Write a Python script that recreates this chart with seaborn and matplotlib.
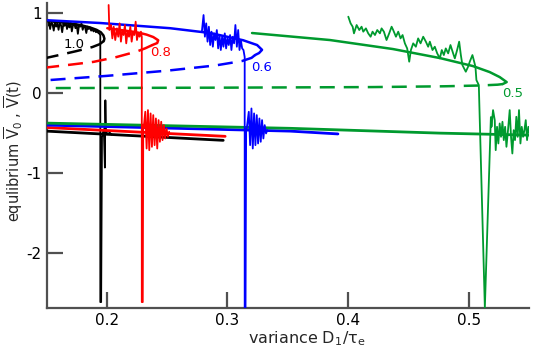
import matplotlib
matplotlib.use("Agg")
import matplotlib.pyplot as plt
import seaborn as sns

sns.set_style("ticks")
plt.rcParams['font.family'] = ['DejaVu Sans']
plt.rcParams['mathtext.fontset'] = 'dejavusans'
plt.rcParams['mathtext.default'] = 'regular'

BLACK = '#000000'
RED = '#ff0000'
BLUE = '#0000ff'
GREEN = '#009a2e'

# equilibrium branches (upper stable, unstable dashed, lower stable)
black_up_x = [0.150, 0.165, 0.178, 0.186, 0.1915, 0.1950, 0.1972, 0.1980, 0.1975]
black_up_y = [0.90, 0.88, 0.85, 0.82, 0.79, 0.76, 0.72, 0.68, 0.65]
black_mid_x = [0.1975, 0.1940, 0.1880, 0.1750, 0.1620, 0.150]
black_mid_y = [0.65, 0.61, 0.575, 0.525, 0.48, 0.44]
black_lo_x = [0.150, 0.2965]
black_lo_y = [-0.475, -0.59]

red_up_x = [0.2004, 0.2100, 0.2200, 0.2277, 0.2330, 0.2385, 0.2426, 0.2418, 0.2377]
red_up_y = [0.81, 0.79, 0.77, 0.75, 0.73, 0.70, 0.66, 0.625, 0.60]
red_mid_x = [0.2377, 0.2320, 0.2250, 0.2080, 0.1890, 0.1700, 0.150]
red_mid_y = [0.60, 0.56, 0.52, 0.45, 0.39, 0.355, 0.32]
red_lo_x = [0.150, 0.2981]
red_lo_y = [-0.43, -0.54]

blue_up_x = [0.150, 0.1946, 0.2526, 0.2857, 0.3130, 0.3246, 0.3287, 0.3262, 0.3229]
blue_up_y = [0.91, 0.875, 0.81, 0.75, 0.66, 0.60, 0.54, 0.50, 0.475]
blue_mid_x = [0.3229, 0.3200, 0.3120, 0.2900, 0.2500, 0.2000, 0.150]
blue_mid_y = [0.475, 0.44, 0.40, 0.345, 0.28, 0.215, 0.16]
blue_lo_x = [0.150, 0.352, 0.3916]
blue_lo_y = [-0.40, -0.475, -0.51]

green_up_x = [0.3204, 0.385, 0.4372, 0.4761, 0.5035, 0.5174, 0.5257, 0.5315, 0.5282]
green_up_y = [0.75, 0.6625, 0.55, 0.4375, 0.3375, 0.2625, 0.20, 0.1375, 0.1125]
green_mid_x = [0.5282, 0.524, 0.51, 0.48, 0.42, 0.30, 0.150]
green_mid_y = [0.1125, 0.105, 0.095, 0.085, 0.075, 0.068, 0.0625]
green_lo_x = [0.150, 0.352, 0.476, 0.55]
green_lo_y = [-0.375, -0.44, -0.50, -0.525]

# simulated trajectories V(t)
black_tr_x = [0.150, 0.151, 0.152, 0.153, 0.154, 0.155, 0.156, 0.157, 0.158, 0.159,
              0.160, 0.161, 0.162, 0.163, 0.164, 0.165, 0.166, 0.167, 0.168, 0.169,
              0.170, 0.171, 0.172, 0.173, 0.174, 0.175, 0.176, 0.177, 0.178, 0.179,
              0.180, 0.181, 0.182, 0.183, 0.184, 0.185, 0.186, 0.187, 0.188, 0.189,
              0.190, 0.191, 0.192, 0.193, 0.194, 0.1946, 0.1946, 0.1953, 0.1960, 0.1975,
              0.1984, 0.1988, 0.1993, 0.2010, 0.2040]
black_tr_y = [0.90, 0.84, 0.89, 0.80, 0.88, 0.86, 0.78, 0.89, 0.83, 0.87,
              0.79, 0.88, 0.85, 0.76, 0.87, 0.84, 0.89, 0.80, 0.86, 0.82,
              0.88, 0.77, 0.85, 0.87, 0.81, 0.86, 0.74, 0.85, 0.83, 0.87,
              0.79, 0.84, 0.82, 0.75, 0.83, 0.80, 0.82, 0.78, 0.80, 0.77,
              0.79, 0.76, 0.77, 0.75, 0.74, 0.72, -2.61, -2.61, -0.55, -0.45,
              -0.93, -0.09, -0.50, -0.47, -0.52]

red_tr_x = [0.2015, 0.2021, 0.2035, 0.2046, 0.2057, 0.2070, 0.2084, 0.2095, 0.2106, 0.2117,
            0.2128, 0.2139, 0.2150, 0.2161, 0.2172, 0.2184, 0.2195, 0.2206, 0.2217, 0.2228,
            0.2239, 0.2250, 0.2261, 0.2272, 0.2283, 0.2290, 0.2290, 0.2298, 0.2302,
            0.2305, 0.2319, 0.2330, 0.2341, 0.2352, 0.2363, 0.2374, 0.2385, 0.2396, 0.2407,
            0.2418, 0.2429, 0.2440, 0.2451, 0.2462, 0.2473, 0.2484, 0.2495, 0.2506, 0.2517]
red_tr_y = [1.10, 0.7875, 0.85, 0.683, 0.829, 0.6625, 0.808, 0.704, 0.871, 0.642,
            0.7875, 0.725, 0.85, 0.621, 0.767, 0.704, 0.829, 0.642, 0.767, 0.725,
            0.892, 0.6625, 0.746, 0.704, 0.767, 0.70, -2.61, -2.61, -0.40,
            -0.442, -0.233, -0.692, -0.2125, -0.7125, -0.254, -0.671, -0.275, -0.65, -0.317,
            -0.692, -0.3375, -0.608, -0.358, -0.5875, -0.40, -0.567, -0.442, -0.546, -0.483]

blue_tr_x = [0.2788, 0.2802, 0.2813, 0.2824, 0.2835, 0.2846, 0.2857, 0.2868, 0.2879, 0.2890,
             0.2901, 0.2912, 0.2923, 0.2934, 0.2945, 0.2956, 0.2967, 0.2978, 0.2989, 0.3000,
             0.3011, 0.3022, 0.3033, 0.3044, 0.3055, 0.3066, 0.3078, 0.3089, 0.3100, 0.3111,
             0.3122, 0.3133, 0.3143, 0.3143, 0.3150, 0.3155,
             0.3160, 0.3177, 0.3188, 0.3199, 0.3210, 0.3221, 0.3232, 0.3243, 0.3254, 0.3265,
             0.3276, 0.3287, 0.3298, 0.3309, 0.3320, 0.3331]
blue_tr_y = [0.767, 0.975, 0.704, 0.871, 0.642, 0.829, 0.60, 0.767, 0.579, 0.746,
             0.6625, 0.7875, 0.558, 0.725, 0.5375, 0.704, 0.579, 0.746, 0.558, 0.683,
             0.60, 0.725, 0.5375, 0.704, 0.621, 0.85, 0.579, 0.7875, 0.5375, 0.6625,
             0.558, 0.5375, 0.45, -2.68, -2.68, -0.45,
             -0.442, -0.233, -0.65, -0.192, -0.692, -0.254, -0.65, -0.275, -0.629, -0.317,
             -0.608, -0.3375, -0.567, -0.40, -0.504, -0.4625]

green_tr_x = [0.4002, 0.4021, 0.4038, 0.4049, 0.4071, 0.4093, 0.4112, 0.4126, 0.4148, 0.4167,
              0.4187, 0.4203, 0.4223, 0.4242, 0.4264, 0.4278, 0.4297, 0.4319, 0.4341, 0.4361,
              0.4374, 0.4397, 0.4416, 0.4435, 0.4452, 0.4471, 0.4490, 0.4507, 0.4521, 0.4540,
              0.4562, 0.4581, 0.4601, 0.4623, 0.4645, 0.4664, 0.4678, 0.4700, 0.4719, 0.4739,
              0.4761, 0.4777, 0.4794, 0.4810, 0.4830, 0.4849, 0.4871, 0.4885, 0.4904, 0.4921,
              0.4935, 0.4948, 0.4962, 0.4976, 0.4995, 0.5009, 0.5031, 0.5042, 0.5056, 0.5064,
              0.5084, 0.5134, 0.5184,
              0.5189, 0.5202, 0.5216, 0.5224, 0.5235, 0.5246, 0.5257, 0.5268, 0.5280, 0.5291,
              0.5302, 0.5313, 0.5326, 0.5340, 0.5351, 0.5362, 0.5373, 0.5384, 0.5395, 0.5406,
              0.5417, 0.5429, 0.5440, 0.5451, 0.5462, 0.5473, 0.5484, 0.5495, 0.5506]
green_tr_y = [0.954, 0.871, 0.829, 0.746, 0.85, 0.7875, 0.829, 0.767, 0.808, 0.746,
              0.704, 0.767, 0.725, 0.7875, 0.746, 0.808, 0.767, 0.6625, 0.746, 0.829,
              0.7875, 0.704, 0.767, 0.683, 0.725, 0.621, 0.558, 0.392, 0.5375, 0.621,
              0.579, 0.683, 0.621, 0.704, 0.642, 0.579, 0.642, 0.5375, 0.579, 0.496,
              0.433, 0.5375, 0.475, 0.558, 0.496, 0.60, 0.496, 0.433, 0.5375, 0.642,
              0.475, 0.35, 0.308, 0.267, 0.329, 0.392, 0.475, 0.4125, 0.329, 0.1625,
              0.10, -2.68, -0.30,
              -0.421, -0.2125, -0.3375, -0.7125, -0.421, -0.629, -0.379, -0.546, -0.358, -0.5875,
              -0.421, -0.671, -0.4625, -0.2125, -0.546, -0.754, -0.4625, -0.5875, -0.296, -0.546,
              -0.2125, -0.629, -0.421, -0.546, -0.4625, -0.3375, -0.5875, -0.421, -0.504]

# branch labels (noise amplitude)
labels = ['1.0', '0.8', '0.6', '0.5']
label_x = [0.1731, 0.2443, 0.3287, 0.5365]
label_y = [0.6125, 0.506, 0.325, -0.006]
label_colors = [BLACK, RED, BLUE, GREEN]

fig = plt.figure(figsize=(5.33, 3.52), dpi=100)
ax = fig.add_axes([46.5 / 533, 1 - 307.7 / 352, (529 - 46.5) / 533, (307.7 - 3) / 352])


def curve(x, y, color, lw, ls='-', z=3):
    sns.lineplot(x=x, y=y, color=color, linewidth=lw, linestyle=ls, sort=False,
                 estimator=None, ax=ax, zorder=z)


dash = (0, (6.0, 3.6))

curve(black_tr_x, black_tr_y, BLACK, 1.3, z=2)
curve(black_lo_x, black_lo_y, BLACK, 2.0)
curve(red_lo_x, red_lo_y, RED, 2.0)
curve(blue_lo_x, blue_lo_y, BLUE, 2.0)
curve(green_lo_x, green_lo_y, GREEN, 2.0)

curve(black_up_x, black_up_y, BLACK, 1.8)
curve(black_mid_x, black_mid_y, BLACK, 1.8, dash)
curve(red_up_x, red_up_y, RED, 1.8)
curve(red_mid_x, red_mid_y, RED, 1.8, dash)
curve(green_up_x, green_up_y, GREEN, 1.8)
curve(green_mid_x, green_mid_y, GREEN, 1.8, dash)
curve(blue_up_x, blue_up_y, BLUE, 1.8)
curve(blue_mid_x, blue_mid_y, BLUE, 1.8, dash)

curve(red_tr_x, red_tr_y, RED, 1.3, z=4)
curve(blue_tr_x, blue_tr_y, BLUE, 1.3, z=4)
curve(green_tr_x, green_tr_y, GREEN, 1.3, z=4)

for t, lx, ly, c in zip(labels, label_x, label_y, label_colors):
    ax.text(lx, ly, t, color=c, fontsize=9.5, ha='center', va='center', zorder=5)

ax.set_xlim(0.15, 0.55)
ax.set_ylim(-2.68, 1.125)
ax.set_xticks([0.2, 0.3, 0.4, 0.5])
ax.set_xticklabels(['0.2', '0.3', '0.4', '0.5'])
ax.set_yticks([-2, -1, 0, 1])
ax.set_yticklabels(['-2', '-1', '0', '1'])

sns.despine(ax=ax, top=True, right=True)
for s in ['left', 'bottom']:
    ax.spines[s].set_color('#505050')
    ax.spines[s].set_linewidth(1.6)
ax.tick_params(direction='in', length=11.5, width=1.6, color='#505050',
               labelsize=11, pad=3.5, labelcolor='black')

ax.set_xlabel(r'variance D$_1$/$\tau_e$', fontsize=11.5)
ax.set_ylabel(r'equlibrium $\overline{V}_0$ , $\overline{V}$(t)', fontsize=10.5)
ax.xaxis.set_label_coords(0.54, -0.07)
ax.yaxis.set_label_coords(-0.045, 0.515)

fig.savefig('out.png', dpi=100)
